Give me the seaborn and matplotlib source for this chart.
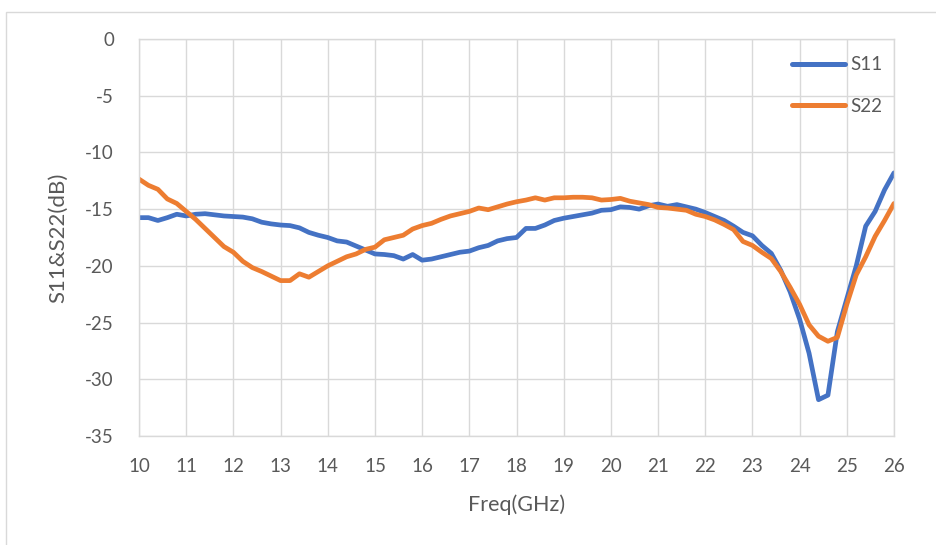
import numpy as np
import pandas as pd
import matplotlib
matplotlib.use('Agg')
import matplotlib.pyplot as plt
import seaborn as sns
from matplotlib.patches import Rectangle

# frequency grid (GHz), 0.2 GHz step
freq = np.round(np.linspace(10, 26, 81), 1)

s11 = [-15.75, -15.75, -16.0, -15.75, -15.45, -15.6, -15.45, -15.4, -15.5, -15.6,
       -15.65, -15.7, -15.85, -16.15, -16.3, -16.4, -16.45, -16.65, -17.05, -17.3,
       -17.5, -17.8, -17.9, -18.25, -18.6, -18.95, -19.0, -19.1, -19.4, -19.0,
       -19.5, -19.4, -19.2, -19.0, -18.8, -18.7, -18.4, -18.2, -17.8, -17.6,
       -17.5, -16.7, -16.7, -16.4, -16.0, -15.8, -15.65, -15.5, -15.35, -15.1,
       -15.05, -14.8, -14.85, -15.0, -14.7, -14.55, -14.75, -14.6, -14.8, -15.0,
       -15.3, -15.65, -16.0, -16.5, -17.05, -17.35, -18.2, -18.9, -20.4, -22.3,
       -24.7, -27.7, -31.8, -31.4, -25.8, -22.9, -20.0, -16.5, -15.2, -13.3,
       -11.8]

s22 = [-12.35, -12.9, -13.25, -14.1, -14.5, -15.2, -15.9, -16.7, -17.5, -18.3,
       -18.8, -19.6, -20.15, -20.5, -20.9, -21.3, -21.3, -20.7, -21.0, -20.5,
       -20.0, -19.6, -19.2, -18.95, -18.55, -18.35, -17.7, -17.5, -17.3, -16.75,
       -16.45, -16.25, -15.9, -15.6, -15.4, -15.2, -14.9, -15.05, -14.8, -14.55,
       -14.35, -14.2, -14.0, -14.2, -14.0, -14.0, -13.95, -13.95, -14.0, -14.2,
       -14.15, -14.05, -14.3, -14.45, -14.6, -14.85, -14.9, -15.0, -15.1, -15.45,
       -15.65, -15.95, -16.35, -16.8, -17.85, -18.2, -18.8, -19.35, -20.5, -21.9,
       -23.4, -25.2, -26.2, -26.65, -26.3, -23.4, -20.8, -19.2, -17.4, -16.0,
       -14.5]

series_names = ['S11', 'S22']
colors = ['#4472C4', '#ED7D31']
x_ticks = list(range(10, 27))
y_ticks = list(range(-35, 1, 5))

df = pd.DataFrame({
    'freq': np.concatenate([freq, freq]),
    'value': s11 + s22,
    'series': [series_names[0]] * len(freq) + [series_names[1]] * len(freq),
})

sns.set_theme(style='white')
plt.rcParams['font.family'] = ['Lato', 'DejaVu Sans']
plt.rcParams['axes.unicode_minus'] = False  # Excel style hyphen minus

fig = plt.figure(figsize=(9.36, 5.45), dpi=100)
ax = fig.add_axes([139 / 936, 1 - 436 / 545, (894 - 139) / 936, (436 - 39) / 545])

sns.lineplot(data=df, x='freq', y='value', hue='series', palette=colors,
             linewidth=3.4, ax=ax, legend=True)

ax.set_xlim(10, 26)
ax.set_ylim(-35, 0)
ax.set_xticks(x_ticks)
ax.set_yticks(y_ticks)
ax.grid(True, color='#D9D9D9', linewidth=1.0)
ax.set_axisbelow(True)
for sp in ax.spines.values():
    sp.set_color('#D9D9D9')
    sp.set_linewidth(1.0)
ax.tick_params(axis='both', length=0, labelsize=13.5, colors='#595959')
ax.tick_params(axis='y', pad=18)
ax.tick_params(axis='x', pad=16)
ax.set_xlabel('Freq(GHz)', fontsize=15.5, color='#595959', labelpad=14)
ax.set_ylabel('S11&S22(dB)', fontsize=16, color='#595959', labelpad=12)

handles, labels = ax.get_legend_handles_labels()
for h in handles:
    h.set_solid_capstyle('round')
    h.set_linewidth(3.6)
leg = ax.legend(handles, labels, loc='upper right', bbox_to_anchor=(1.0, 0.985),
                frameon=False, fontsize=13.5, handlelength=2.8, labelspacing=1.3,
                handletextpad=0.3, borderaxespad=0.2)
for t in leg.get_texts():
    t.set_color('#595959')

# outer chart border
fig.patches.append(Rectangle((6 / 936, -0.1), 1.2, 1 - 12 / 545 + 0.1,
                             transform=fig.transFigure, fill=False,
                             edgecolor='#D9D9D9', linewidth=1.0))

fig.savefig('out.png', dpi=100)
